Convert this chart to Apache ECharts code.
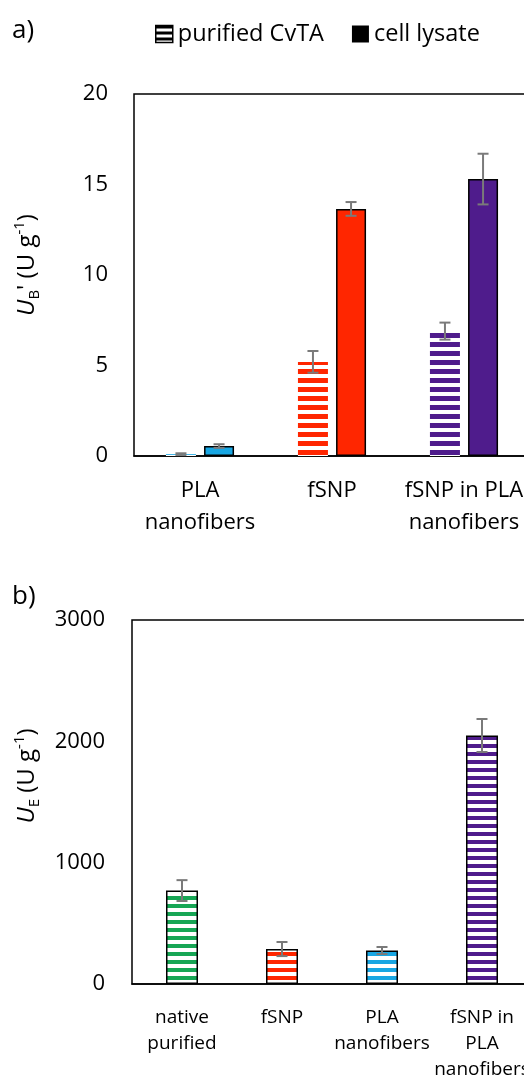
<!DOCTYPE html>
<html><head><meta charset="utf-8">
<script src="https://cdn.jsdelivr.net/npm/echarts@6/dist/echarts.min.js"></script>
<style>html,body{margin:0;padding:0;background:#fff}#c{width:524px;height:1079px}</style>
</head><body><div id="c"></div>
<script>
// ---- data (chart a) ----
const catsA = ['PLA\nnanofibers', 'fSNP', 'fSNP in PLA\nnanofibers'];
const purifiedA = [0.1, 5.2, 6.9];
const purifiedErrA = [0.05, 0.6, 0.47];
const lysateA = [0.55, 13.65, 15.3];
const lysateErrA = [0.1, 0.38, 1.4];
const colorsA = ['#18a6e3', '#ff2600', '#4f1c8c'];
// ---- data (chart b) ----
const catsB = ['native\npurified', 'fSNP', 'PLA\nnanofibers', 'fSNP in\nPLA\nnanofibers'];
const valuesB = [770, 288, 276, 2048];
const errB = [86, 58, 29, 136];
const colorsB = ['#17a655', '#ff2600', '#18a6e3', '#4f1c8c'];
const legendNames = ['purified CvTA', 'cell lysate'];

const FONT = 'Open Sans';
const barWA = 30, gapA = 0.27, barWB = 32;

function stripes(color, period, thick) {
  const c = document.createElement('canvas');
  c.width = 4; c.height = period;
  const g = c.getContext('2d');
  g.fillStyle = '#fff'; g.fillRect(0, 0, 4, period);
  g.fillStyle = color; g.fillRect(0, 0, 4, thick);
  return { image: c, repeat: 'repeat' };
}

function errSeries(name, vals, errs, offset, xi, yi, capHalf) {
  return {
    name: name, type: 'custom', xAxisIndex: xi, yAxisIndex: yi, z: 10, silent: true,
    data: vals.map((v, i) => [i, v, errs[i]]),
    encode: { x: 0, y: 1 },
    renderItem: function (params, api) {
      const i = api.value(0), v = api.value(1), e = api.value(2);
      const t = api.coord([i, v + e]), b = api.coord([i, v - e]);
      const x = t[0] + offset;
      const st = { stroke: '#7a7a7a', lineWidth: 2 };
      return { type: 'group', children: [
        { type: 'line', shape: { x1: x, y1: t[1], x2: x, y2: b[1] }, style: st },
        { type: 'line', shape: { x1: x - capHalf, y1: t[1], x2: x + capHalf, y2: t[1] }, style: st },
        { type: 'line', shape: { x1: x - capHalf, y1: b[1], x2: x + capHalf, y2: b[1] }, style: st }
      ]};
    }
  };
}

const offA = (barWA + barWA * gapA) / 2;
const axisLabel = { color: '#000', fontFamily: FONT };
const richName = {
  u: { fontFamily: FONT, fontSize: 24, fontStyle: 'italic', color: '#000' },
  n: { fontFamily: FONT, fontSize: 24, color: '#000' },
  sub: { fontFamily: FONT, fontSize: 15, color: '#000', verticalAlign: 'bottom', lineHeight: 30 },
  sup: { fontFamily: FONT, fontSize: 15, color: '#000', verticalAlign: 'top', lineHeight: 28 }
};

const chart = echarts.init(document.getElementById('c'), null, { renderer: 'canvas' });
chart.setOption({
  animation: false,
  backgroundColor: '#fff',
  textStyle: { fontFamily: FONT },
  graphic: [
    { type: 'text', left: 12, top: 18, style: { text: 'a)', font: '26px "Open Sans"', fill: '#000' } },
    { type: 'text', left: 12, top: 584, style: { text: 'b)', font: '26px "Open Sans"', fill: '#000' } }
  ],
  legend: {
    left: 155, top: 22, padding: 0, itemWidth: 17, itemHeight: 17, itemGap: 28,
    textStyle: { fontSize: 23.5, color: '#000', fontFamily: FONT },
    data: [
      { name: legendNames[0], icon: 'rect', itemStyle: { color: stripes('#000', 6, 3), borderColor: '#000', borderWidth: 1.5 } },
      { name: legendNames[1], icon: 'rect', itemStyle: { color: '#000', borderWidth: 0 } }
    ]
  },
  grid: [
    { left: 134, top: 94, width: 396, height: 362, outerBoundsMode: 'none', containLabel: false, show: true, borderColor: '#000', borderWidth: 1.5, backgroundColor: 'transparent' },
    { left: 132, top: 620, width: 400, height: 364, outerBoundsMode: 'none', containLabel: false, show: true, borderColor: '#000', borderWidth: 1.5, backgroundColor: 'transparent' }
  ],
  xAxis: [
    { type: 'category', gridIndex: 0, data: catsA, axisTick: { show: false },
      axisLine: { lineStyle: { color: '#000', width: 1.5 } },
      axisLabel: Object.assign({}, axisLabel, { fontSize: 22, lineHeight: 32, margin: 19, interval: 0 }) },
    { type: 'category', gridIndex: 1, data: catsB, axisTick: { show: false },
      axisLine: { lineStyle: { color: '#000', width: 1.5 } },
      axisLabel: Object.assign({}, axisLabel, { fontSize: 19, lineHeight: 26, margin: 21, interval: 0 }) }
  ],
  yAxis: [
    { type: 'value', gridIndex: 0, min: 0, max: 20, interval: 5, splitLine: { show: false },
      axisLine: { show: false }, axisTick: { show: false },
      axisLabel: Object.assign({}, axisLabel, { fontSize: 22, margin: 26, formatter: v => String(v) }),
      name: "{u|U}{sub|B}{n|' (U g}{sup|-1}{n|)}", nameLocation: 'middle', nameRotate: 90, nameGap: 92,
      nameTextStyle: { rich: richName, padding: [0, 0, 0, 20] } },
    { type: 'value', gridIndex: 1, min: 0, max: 3000, interval: 1000, splitLine: { show: false },
      axisLine: { show: false }, axisTick: { show: false },
      axisLabel: Object.assign({}, axisLabel, { fontSize: 22, margin: 27, formatter: v => String(v) }),
      name: "{u|U}{sub|E}{n| (U g}{sup|-1}{n|)}", nameLocation: 'middle', nameRotate: 90, nameGap: 90,
      nameTextStyle: { rich: richName, padding: [0, 0, 0, 52] } }
  ],
  series: [
    { name: legendNames[0], type: 'bar', xAxisIndex: 0, yAxisIndex: 0, barWidth: barWA, barGap: (gapA * 100) + '%',
      itemStyle: { color: stripes('#000', 9, 5) },
      data: purifiedA.map((v, i) => ({ value: v, itemStyle: { color: stripes(colorsA[i], 9, 5), borderWidth: 0 } })) },
    { name: legendNames[1], type: 'bar', xAxisIndex: 0, yAxisIndex: 0, barWidth: barWA, barGap: (gapA * 100) + '%',
      itemStyle: { color: '#000', borderColor: '#000', borderWidth: 1.5 },
      data: lysateA.map((v, i) => ({ value: v, itemStyle: { color: colorsA[i], borderColor: '#000', borderWidth: 1.5 } })) },
    errSeries('errPurA', purifiedA, purifiedErrA, -offA, 0, 0, 5.5),
    errSeries('errLysA', lysateA, lysateErrA, offA, 0, 0, 5.5),
    { name: 'b', type: 'bar', xAxisIndex: 1, yAxisIndex: 1, barWidth: barWB,
      data: valuesB.map((v, i) => ({ value: v, itemStyle: { color: stripes(colorsB[i], 8, 4), borderColor: '#000', borderWidth: 1.5 } })) },
    errSeries('errB', valuesB, errB, 0, 1, 1, 5.5)
  ]
});
</script></body></html>
